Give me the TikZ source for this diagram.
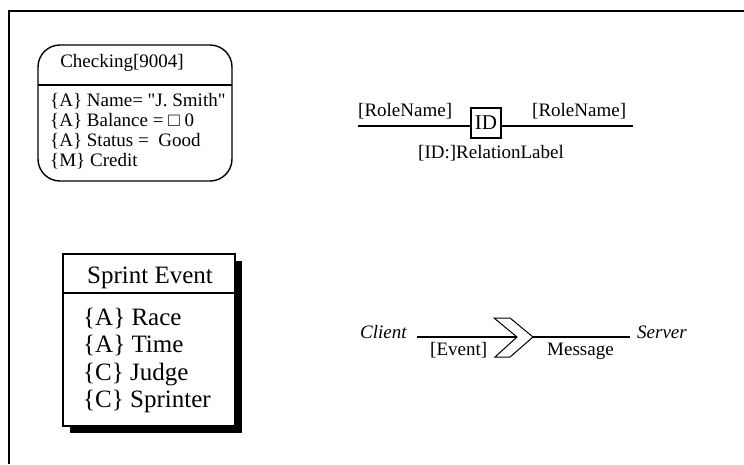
\documentclass[tikz,border=0pt]{standalone}
\usepackage{fontspec}
\setmainfont{Liberation Serif}[Ligatures=TeXOff]
\begin{document}
\begin{tikzpicture}[x=1pt,y=-1pt,
  txt/.style={inner sep=0pt, font=\fontsize{19}{20}\selectfont},
  itxt/.style={inner sep=0pt, font=\fontsize{19}{20}\selectfont\itshape},
  wtxt/.style={inner sep=0pt, font=\fontsize{25}{27}\selectfont},
  boxline/.style={line width=1.4pt},
  conn/.style={line width=1.4pt}]
\useasboundingbox (0,0) rectangle (744,464);
\fill[white] (0,0) rectangle (744,464);
\draw[line width=2pt] (8.5,464) -- (8.5,10.5) -- (744,10.5);

% Checking object
\draw[boxline, rounded corners=22pt] (38,45) rectangle (232,181);
\draw[boxline] (38,85) -- (232,85);
\node[txt, anchor=base] (chk) at (122,67.5) {Checking[9004]};
\node[txt, anchor=base west] (c1) at (50,106.5) {\{A\} Name= "J. Smith"};
\node[txt, anchor=base west] (c2) at (50,126.5) {\{A\} Balance = □ 0};
\node[txt, anchor=base west] (c3) at (50,146.5) {\{A\} Status =~ Good};
\node[txt, anchor=base west] (c4) at (50,166.5) {\{M\} Credit};

% Relation
\coordinate (rl) at (358,126);
\coordinate (rr) at (633,126);
\node[inner sep=0pt, font=\fontsize{21}{22}\selectfont, draw, boxline, minimum width=30pt, minimum height=30pt] (id) at (486,123) {ID};
\draw[conn] (rl) -- (rl -| id.west);
\draw[conn] (rr -| id.east) -- (rr);
\node[txt, anchor=base west] (rn1) at (358,116.5) {[RoleName]};
\node[txt, anchor=base west] (rn2) at (532,116.5) {[RoleName]};
\node[txt, anchor=base west] (rlab) at (418,158) {[ID:]RelationLabel};

% Sprint Event class
\fill[black] (70,261) rectangle (242,433);
\filldraw[fill=white, boxline] (63,254) rectangle (235,426);
\draw[boxline] (63,293) -- (235,293);
\node[wtxt, anchor=base] (se) at (150,283) {Sprint Event};
\node[wtxt, anchor=base west] (s1) at (83,325) {\{A\} Race};
\node[wtxt, anchor=base west] (s2) at (83,352.5) {\{A\} Time};
\node[wtxt, anchor=base west] (s3) at (83,380) {\{C\} Judge};
\node[wtxt, anchor=base west] (s4) at (83,407.5) {\{C\} Sprinter};

% Message
\node[itxt, anchor=base west] (client) at (360,338) {Client};
\node[itxt, anchor=base west] (server) at (637,338) {Server};
\coordinate (ml) at (417,337);
\coordinate (notch) at (517,337);
\coordinate (tip) at (533,337);
\coordinate (mr) at (630,337);
\draw[line width=1pt, line join=miter] (494,318) -- (510,318) -- (tip) -- (510,357) -- (495,357) -- (notch) -- cycle;
\draw[conn] (ml) -- (notch);
\draw[conn] (tip) -- (mr);
\node[txt, anchor=base west] (ev) at (430,355) {[Event]};
\node[txt, anchor=base west] (msg) at (547,355) {Message};
\end{tikzpicture}
\end{document}
